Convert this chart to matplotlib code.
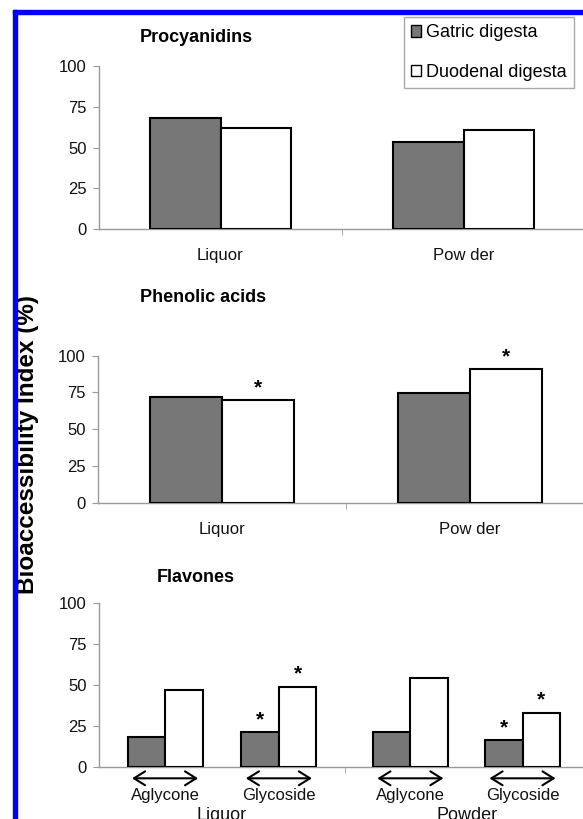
import numpy as np
import matplotlib.pyplot as plt
from matplotlib.patches import Patch, Rectangle

plt.rcParams['font.family'] = ['Liberation Sans', 'DejaVu Sans']

series = ['Gatric digesta', 'Duodenal digesta']
bar_colors = ['#777777', 'white']

# Procyanidins
proc_cats = ['Liquor', 'Pow der']
proc_gastric = [68.0, 53.6]
proc_duodenal = [62.2, 60.8]

# Phenolic acids
phen_cats = ['Liquor', 'Pow der']
phen_gastric = [72.1, 74.8]
phen_duodenal = [69.7, 90.7]
phen_star_gastric = [False, False]
phen_star_duodenal = [True, True]

# Flavones
flav_groups = ['Liquor', 'Powder']
flav_sub = ['Aglycone', 'Glycoside', 'Aglycone', 'Glycoside']
flav_gastric = [18.7, 21.3, 21.3, 16.6]
flav_duodenal = [47.1, 49.1, 54.3, 33.3]
flav_star_gastric = [False, True, False, True]
flav_star_duodenal = [False, True, False, True]

W, H = 583, 819
fig = plt.figure(figsize=(W / 100, H / 100), dpi=100)


def px_axes(x0, x1, ytop, ybot):
	return fig.add_axes([x0 / W, 1 - ybot / H, (x1 - x0) / W, (ybot - ytop) / H])


def style_axes(ax):
	for s in ['top', 'right']:
		ax.spines[s].set_visible(False)
	for s in ['left', 'bottom']:
		ax.spines[s].set_color('#999999')
		ax.spines[s].set_linewidth(1)
	ax.set_ylim(0, 100)
	ax.set_xlim(0, 2)
	ax.set_yticks([0, 25, 50, 75, 100])
	ax.tick_params(axis='y', length=4, color='#999999', pad=5, labelsize=12, labelcolor='#111111')
	ax.set_xticks([1], minor=True)
	ax.tick_params(axis='x', which='minor', length=4, color='#999999')


def add_stars(ax, xs, vals, flags):
	for x, v, f in zip(xs, vals, flags):
		if f:
			ax.annotate('*', (x, v), xytext=(0, 2), textcoords='offset points',
				ha='center', va='bottom', fontsize=15, fontweight='bold')


def simple_panel(ax, cats, gastric, duodenal, sg=None, sd=None):
	w = 0.29
	x = np.array([0.5, 1.5])
	ax.bar(x - w / 2, gastric, w, color=bar_colors[0], edgecolor='black', linewidth=1.5, zorder=3)
	ax.bar(x + w / 2, duodenal, w, color=bar_colors[1], edgecolor='black', linewidth=1.5, zorder=3)
	ax.set_xticks(x, cats)
	ax.tick_params(axis='x', which='major', length=0, pad=14, labelsize=12, labelcolor='#111111')
	if sg is not None:
		add_stars(ax, x - w / 2, gastric, sg)
		add_stars(ax, x + w / 2, duodenal, sd)


ax1 = px_axes(99, 585, 66, 229)
style_axes(ax1)
simple_panel(ax1, proc_cats, proc_gastric, proc_duodenal)

ax2 = px_axes(98, 594, 355.7, 502.7)
style_axes(ax2)
simple_panel(ax2, phen_cats, phen_gastric, phen_duodenal, phen_star_gastric, phen_star_duodenal)

ax3 = px_axes(99.3, 590, 603, 767.3)
style_axes(ax3)
w3 = 0.153
xc = np.array([0.268, 0.732, 1.268, 1.725])
ax3.bar(xc - w3 / 2, flav_gastric, w3, color=bar_colors[0], edgecolor='black', linewidth=1.5, zorder=3)
ax3.bar(xc + w3 / 2, flav_duodenal, w3, color=bar_colors[1], edgecolor='black', linewidth=1.5, zorder=3)
add_stars(ax3, xc - w3 / 2, flav_gastric, flav_star_gastric)
add_stars(ax3, xc + w3 / 2, flav_duodenal, flav_star_duodenal)
ax3.set_xticks(xc, flav_sub)
ax3.tick_params(axis='x', which='major', length=0, pad=15, labelsize=12, labelcolor='#111111')
tr = ax3.get_xaxis_transform()
for x in xc:
	ax3.annotate('', xy=(x + w3 * 0.88, -0.067), xytext=(x - w3 * 0.88, -0.067),
		xycoords=tr, textcoords=tr, annotation_clip=False,
		arrowprops=dict(arrowstyle='<->,head_length=0.8,head_width=0.5', lw=1.5,
			color='black', shrinkA=0, shrinkB=0))
# group labels sit at the very bottom edge, partly cut like the original
for gx, g in zip([0.5, 1.5], flav_groups):
	ax3.text(gx, -0.24, g, transform=tr, ha='center', va='top', fontsize=13, color='#111111')

# panel titles
fig.text(140 / W, 1 - 38 / H, 'Procyanidins', fontweight='bold', fontsize=13, va='center')
fig.text(140 / W, 1 - 298 / H, 'Phenolic acids', fontweight='bold', fontsize=13, va='center')
fig.text(157 / W, 1 - 577 / H, 'Flavones', fontweight='bold', fontsize=13, va='center')

fig.text(28 / W, 1 - 445 / H, 'Bioaccessibility Index (%)', rotation=90, ha='center', va='center',
	fontweight='bold', fontsize=17.5)

handles = [Patch(facecolor=bar_colors[0], edgecolor='black'), Patch(facecolor=bar_colors[1], edgecolor='black')]
fig.legend(handles, series, loc='upper left', bbox_to_anchor=(403.7 / W, 1 - 17 / H),
	fancybox=False, edgecolor='#aaaaaa', framealpha=1, fontsize=13, handlelength=0.55,
	handleheight=0.6, handletextpad=0.3, labelspacing=1.25, borderpad=0.4, borderaxespad=0)

# blue frame along top and left edge
fig.add_artist(Rectangle((13 / W, 1 - 14 / H), 1, 4 / H, transform=fig.transFigure,
	color='#0000ff', zorder=10))
fig.add_artist(Rectangle((13 / W, 0), 4 / W, 1 - 10 / H, transform=fig.transFigure,
	color='#0000ff', zorder=10))

fig.savefig('out.png', dpi=100)
